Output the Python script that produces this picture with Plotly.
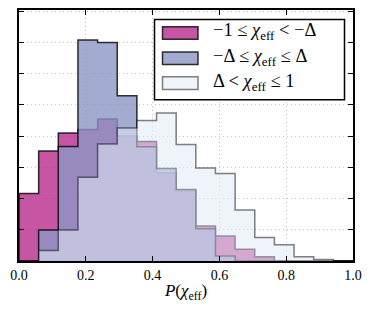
import numpy as np
import plotly.graph_objects as go

# ---- data (bin heights, arbitrary density units; 17 equal bins on [0, 1]) ----
n_bins = 17
neg_vals = [2.16, 3.52, 4.10, 4.21, 4.55, 4.00, 3.83, 2.83, 2.25, 1.12, 0.80, 0.38, 0.14, 0.0, 0.0, 0.0, 0.0]
mid_vals = [0.0, 0.99, 3.67, 7.08, 7.00, 5.29, 3.66, 2.96, 2.29, 1.03, 0.16, 0.0, 0.0, 0.0, 0.0, 0.0, 0.0]
pos_vals = [0.0, 0.34, 0.99, 2.68, 3.75, 4.26, 4.50, 4.74, 3.73, 2.98, 2.80, 1.63, 0.75, 0.52, 0.14, 0.05, 0.0]
labels = ["−1 ≤ <i>χ</i><sub>eff</sub> &lt; −Δ",
          "−Δ ≤ <i>χ</i><sub>eff</sub> ≤ Δ",
          "Δ &lt; <i>χ</i><sub>eff</sub> ≤ 1"]
xticks = [0.0, 0.2, 0.4, 0.6, 0.8, 1.0]
xticklabels = ["0.0", "0.2", "0.4", "0.6", "0.8", "1.0"]
xlabel = "<i>P</i>(<i>χ</i><sub>eff</sub>)"

edges = np.linspace(0, 1, n_bins + 1)

fills = ["rgba(184,42,140,0.8)", "rgba(140,150,198,0.8)", "rgba(226,235,248,0.55)"]
lines = ["rgba(0,0,0,0.8)", "rgba(0,0,0,0.8)", "rgba(0,0,0,0.5)"]

# the page body adds an 8px offset; figure sized so plot area lands at x 19..353, y 10..261.5
OFF = 8
W, H = 373 - OFF, 313 - OFF
ml, mr, mt, mb = 19 - OFF, 20, 10 - OFF, 51.5
pw, ph = W - ml - mr, H - mt - mb
FONT = "Liberation Serif"


def px(xp):
    return (xp - OFF - ml) / pw


def py(yp):
    return (H - mb - (yp - OFF)) / ph


fig = go.Figure()
for vals, fc, lc in zip([neg_vals, mid_vals, pos_vals], fills, lines):
    xs = [edges[0]] + list(edges[:-1]) + [edges[-1], edges[-1]]
    ys = [0] + list(vals) + [vals[-1], 0]
    fig.add_trace(go.Scatter(x=xs, y=ys, mode="lines", line=dict(shape="hv", color=lc, width=1.5),
                             fill="tozeroy", fillcolor=fc, showlegend=False, hoverinfo="skip"))

axis_common = dict(showline=True, linecolor="black", linewidth=1.5, mirror="allticks",
                   ticks="inside", ticklen=5, tickwidth=1, tickcolor="black", automargin=False,
                   showgrid=True, gridcolor="#c4c4c4", gridwidth=1, griddash="1px,3px", zeroline=False)

fig.update_xaxes(range=[0, 1], tickvals=xticks, ticktext=xticklabels,
                 tickfont=dict(family=FONT, size=14, color="black"),
                 title=dict(text=xlabel, font=dict(family=FONT, size=17, color="black"), standoff=3),
                 **axis_common)
fig.update_yaxes(range=[0, 8.04], dtick=1, tick0=0, showticklabels=False, **axis_common)

# legend box drawn manually (matplotlib-style patches)
shapes = [dict(type="rect", xref="paper", yref="paper", x0=px(154.5), x1=px(344.5), y0=py(100), y1=py(19.5),
               line=dict(color="black", width=1.5), fillcolor="white", layer="above")]
annotations = []
row_centers = [33, 58.3, 83.3]
for lab, fc, lc, yc in zip(labels, fills, lines, row_centers):
    shapes.append(dict(type="rect", xref="paper", yref="paper", x0=px(162.5), x1=px(198), y0=py(yc + 6.3),
                       y1=py(yc - 6.3), line=dict(color=lc, width=1.5), fillcolor=fc, layer="above"))
    annotations.append(dict(xref="paper", yref="paper", x=px(211), y=py(yc - 1), text=lab, showarrow=False,
                            xanchor="left", yanchor="middle",
                            font=dict(family=FONT, size=18.5, color="black")))

fig.update_layout(width=W, height=H, margin=dict(l=ml, r=mr, t=mt, b=mb),
                  paper_bgcolor="white", plot_bgcolor="white", shapes=shapes, annotations=annotations,
                  showlegend=False)

fig.write_html("out.html")
